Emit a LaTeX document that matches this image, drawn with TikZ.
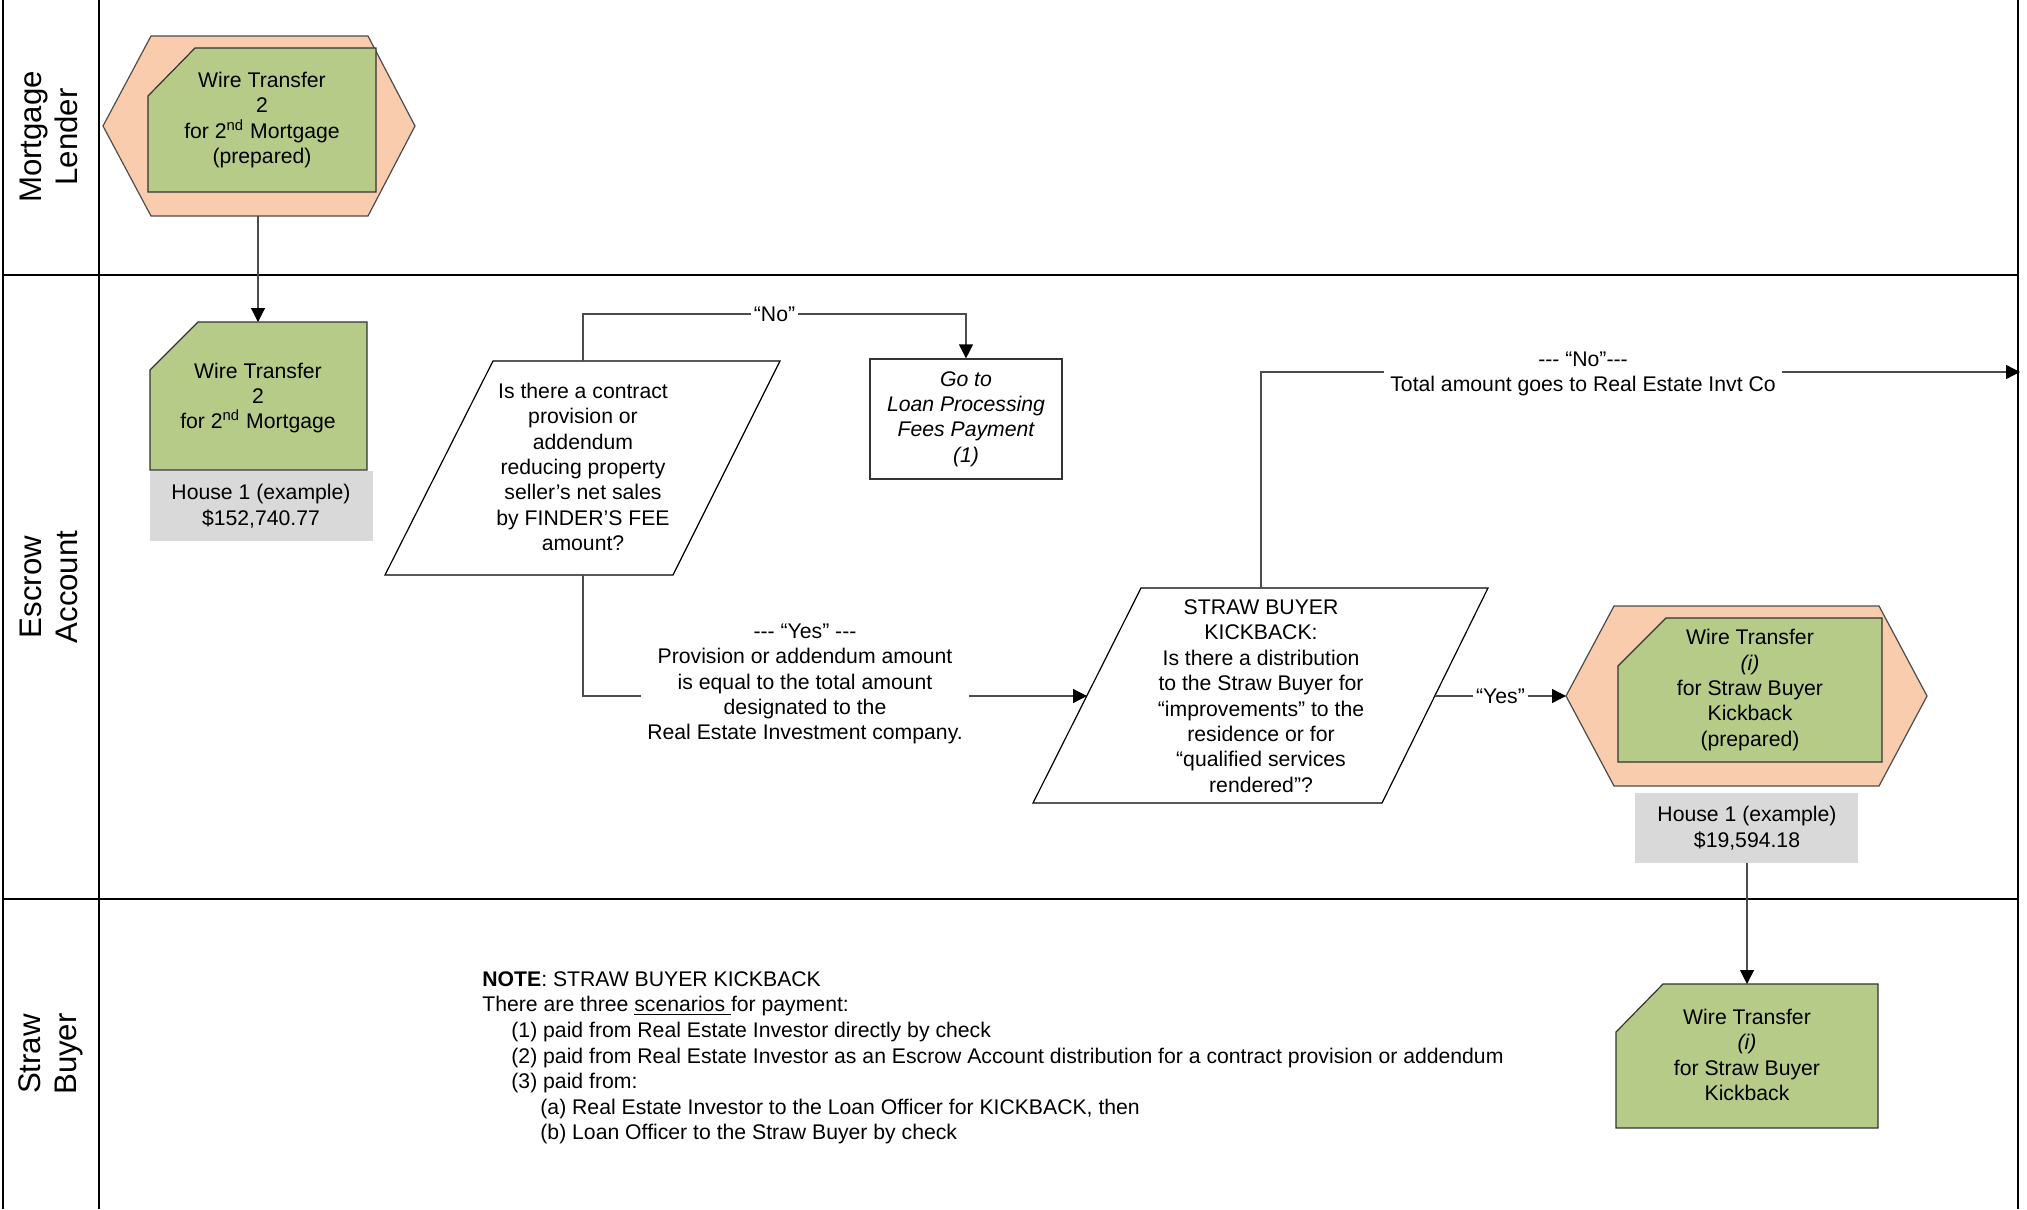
\documentclass[tikz,border=0pt]{standalone}
\usepackage{fontspec}
\setmainfont{Liberation Sans}
\usetikzlibrary{arrows.meta}

\definecolor{hexorange}{RGB}{248,204,172}
\definecolor{cardgreen}{RGB}{183,203,136}
\definecolor{housegray}{RGB}{217,217,217}

\newcommand{\tripledash}{-{}-{}-}

\tikzset{
  lane/.style={line width=0.8pt, draw=black},
  prep/.style={fill=hexorange, draw=black!70, line width=0.6pt},
  card/.style={fill=cardgreen, draw=black!80, line width=0.6pt},
  decision/.style={draw=black, line width=0.6pt, fill=white},
  housebox/.style={fill=housegray},
  flow/.style={draw=black!70, line width=0.6pt},
  arr/.style={flow, -{Triangle[length=7pt,width=7pt,color=black]}},
  txt/.style={align=center, inner sep=0pt, text=black,
    font=\fontsize{10.6}{12.7}\selectfont},
  lbl/.style={txt, fill=white, inner sep=1.5pt},
  lanelabel/.style={rotate=90, align=center, inner sep=0pt,
    font=\fontsize{15.6}{18}\selectfont},
}

\begin{document}
\begin{tikzpicture}[x=0.5pt, y=-0.5pt]
\useasboundingbox (0,0) rectangle (2027,1209);

% swim lanes
\draw[lane] (3,0) -- (3,1209);
\draw[lane] (99,0) -- (99,1209);
\draw[lane] (2018,0) -- (2018,1209);
\draw[lane] (3,275) -- (2018,275);
\draw[lane] (3,899) -- (2018,899);

\node[lanelabel] (laneML) at (49,137) {Mortgage\\Lender};
\node[lanelabel] (laneEA) at (49,587) {Escrow\\Account};
\node[lanelabel] (laneSB) at (51,1054) {Straw\\Buyer};

% Mortgage lender: prepared wire transfer
\path[prep] (103,126) -- (151,36) -- (368,36) -- (415,126) -- (368,216) -- (151,216) -- cycle;
\path[card] (148,96) -- (195,48) -- (376,48) -- (376,192) -- (148,192) -- cycle;
\node[txt] (mlwire) at (262,120) {Wire Transfer\\2\\for 2\textsuperscript{nd} Mortgage\\(prepared)};
\coordinate (mlbot) at (258,216);

% Escrow: wire transfer for 2nd mortgage
\path[card] (150,370) -- (198,322) -- (367,322) -- (367,470) -- (150,470) -- cycle;
\coordinate (ecwiretop) at (258,322);
\node[txt] (ecwire) at (258,398) {Wire Transfer\\2\\for 2\textsuperscript{nd} Mortgage};
\path[housebox] (150,471) rectangle (373,541);
\node[txt] (house1) at (261,506) {House 1 (example)\\\$152,740.77};

% Decision: finder's fee provision
\path[decision] (493,361) -- (780,361) -- (673,575) -- (385,575) -- cycle;
\node[txt] (finder) at (583,467) {Is there a contract\\provision or\\addendum\\reducing property\\seller’s net sales\\by FINDER’S FEE\\amount?};
\coordinate (findertop) at (583,361);
\coordinate (finderbot) at (583,575);

\node[draw=black!80, line width=0.6pt, minimum width=96pt, minimum height=60pt,
  txt, font=\fontsize{10.6}{12.7}\selectfont\itshape] (goto) at (966,419)
  {Go to\\Loan Processing\\Fees Payment\\(1)};

% Decision: straw buyer kickback
\path[decision] (1141,588) -- (1488,588) -- (1382,803) -- (1033,803) -- cycle;
\node[txt] (kick) at (1261,696) {STRAW BUYER\\KICKBACK:\\Is there a distribution\\to the Straw Buyer for\\“improvements” to the\\residence or for\\“qualified services\\rendered”?};
\coordinate (kicktop) at (1261,588);
\coordinate (kickleft) at (1087,696);
\coordinate (kickright) at (1435,696);
\coordinate (outright) at (2020,372);

% Escrow: prepared kickback wire
\path[prep] (1566,696) -- (1614,606) -- (1879,606) -- (1927,696) -- (1879,786) -- (1614,786) -- cycle;
\coordinate (kwireleft) at (1566,696);
\path[card] (1618,666) -- (1666,618) -- (1882,618) -- (1882,762) -- (1618,762) -- cycle;
\node[txt] (kwire) at (1750,690) {Wire Transfer\\\textit{(i)}\\for Straw Buyer\\Kickback\\(prepared)};
\path[housebox] (1635,793) rectangle (1858,863);
\node[txt] (house2) at (1747,828) {House 1 (example)\\\$19,594.18};
\coordinate (house2bot) at (1747,863);

% Straw buyer: kickback wire
\path[card] (1616,1032) -- (1663,984) -- (1878,984) -- (1878,1128) -- (1616,1128) -- cycle;
\coordinate (sbwiretop) at (1747,984);
\node[txt] (sbwire) at (1747,1055) {Wire Transfer\\\textit{(i)}\\for Straw Buyer\\Kickback};

% connectors
\draw[arr] (mlbot) -- (ecwiretop);
\draw[arr] (findertop) -- ++(0,-47) -| node[pos=0.25, lbl] (nolbl) {“No”} (goto.north);
\draw[arr] (finderbot) |- (kickleft);
\node[lbl, inner xsep=3pt] (yeslbl) at (805,684) {\tripledash{} “Yes” \tripledash\\Provision or addendum amount\\is equal to the total amount\\designated to the\\Real Estate Investment company.};
\draw[arr] (kicktop) |- (outright);
\node[lbl, inner xsep=3pt] (nolbl2) at (1583,374) {\tripledash{} “No”\tripledash\\Total amount goes to Real Estate Invt Co};
\draw[arr] (kickright) -- node[midway, lbl] (yes2) {“Yes”} (kwireleft);
\draw[arr] (house2bot) -- (sbwiretop);

% note
\node[txt, align=left, anchor=north west, font=\fontsize{10.6}{12.8}\selectfont] (note) at (482,971)
{\textbf{NOTE}: STRAW BUYER KICKBACK\\
There are three \underline{scenarios\ }for payment:\\
\hspace*{14.5pt}(1) paid from Real Estate Investor directly by check\\
\hspace*{14.5pt}(2) paid from Real Estate Investor as an Escrow Account distribution for a contract provision or addendum\\
\hspace*{14.5pt}(3) paid from:\\
\hspace*{29pt}(a) Real Estate Investor to the Loan Officer for KICKBACK, then\\
\hspace*{29pt}(b) Loan Officer to the Straw Buyer by check};
\end{tikzpicture}
\end{document}
